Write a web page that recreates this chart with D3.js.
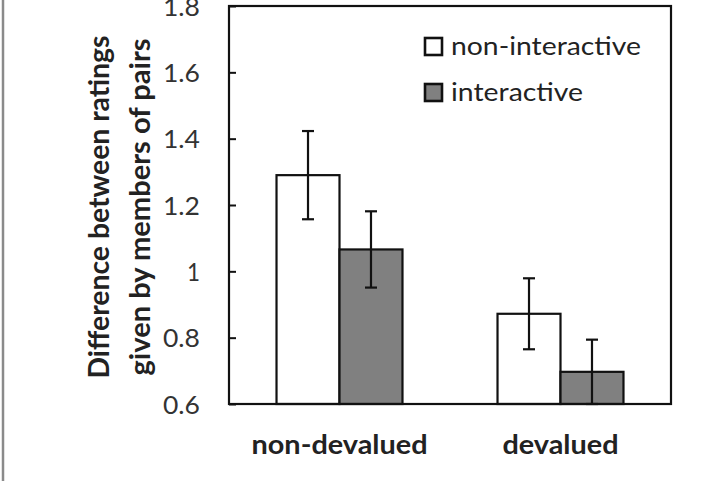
<!DOCTYPE html>
<html><head><meta charset="utf-8">
<script src="https://cdn.jsdelivr.net/npm/d3@7"></script>
<style>body{margin:0;background:#fff}svg{display:block}</style>
</head><body>
<script>
const categories = ["non-devalued", "devalued"];
const seriesNames = ["non-interactive", "interactive"];
const seriesColors = ["#ffffff", "#808080"];
const nonInteractive = [1.29, 0.872];
const interactive = [1.066, 0.697];
const nonInteractiveErr = [0.133, 0.107];
const interactiveErr = [0.115, 0.097];
const yTicks = [0.6, 0.8, 1, 1.2, 1.4, 1.6, 1.8];

const W = 726, H = 481;
const m = {left: 229, right: 671, top: 6, bottom: 404};
const font = "Lato, 'Open Sans', sans-serif";

const svg = d3.select("body").append("svg").attr("width", W).attr("height", H);
svg.append("rect").attr("width", W).attr("height", H).attr("fill", "#fff");
svg.append("line").attr("x1", 3).attr("x2", 3).attr("y1", 0).attr("y2", H)
  .attr("stroke", "#8a8a8a").attr("stroke-width", 2.5);

const x0 = d3.scaleBand().domain(categories).range([m.left, m.right]).paddingInner(0.43).paddingOuter(0.215);
const x1 = d3.scaleBand().domain(seriesNames).range([0, x0.bandwidth()]);
const y = d3.scaleLinear().domain([0.6, 1.8]).range([m.bottom, m.top]);

const data = categories.map((c, i) => ({
  cat: c,
  vals: [
    {s: seriesNames[0], v: nonInteractive[i], e: nonInteractiveErr[i], col: seriesColors[0]},
    {s: seriesNames[1], v: interactive[i], e: interactiveErr[i], col: seriesColors[1]}
  ]
}));

const g = svg.append("g");
const groups = g.selectAll("g.grp").data(data).join("g")
  .attr("transform", d => `translate(${x0(d.cat)},0)`);
groups.selectAll("rect").data(d => d.vals).join("rect")
  .attr("x", d => x1(d.s)).attr("width", x1.bandwidth())
  .attr("y", d => y(d.v)).attr("height", d => y(0.6) - y(d.v))
  .attr("fill", d => d.col).attr("stroke", "#111").attr("stroke-width", 2.2);

const eb = groups.selectAll("g.eb").data(d => d.vals).join("g")
  .attr("transform", d => `translate(${x1(d.s) + x1.bandwidth() / 2},0)`)
  .attr("stroke", "#111").attr("stroke-width", 2.2);
eb.append("line").attr("y1", d => y(d.v + d.e)).attr("y2", d => y(Math.max(0.6, d.v - d.e)));
eb.append("line").attr("x1", -6).attr("x2", 6).attr("y1", d => y(d.v + d.e)).attr("y2", d => y(d.v + d.e));
eb.append("line").attr("x1", -6).attr("x2", 6).attr("y1", d => y(Math.max(0.6, d.v - d.e))).attr("y2", d => y(Math.max(0.6, d.v - d.e)));

// frame
svg.append("rect").attr("x", m.left).attr("y", m.top).attr("width", m.right - m.left).attr("height", m.bottom - m.top)
  .attr("fill", "none").attr("stroke", "#111").attr("stroke-width", 2.2);

// y axis
const yAxis = d3.axisLeft(y).tickValues(yTicks).tickSize(-7).tickPadding(29)
  .tickFormat(d => d3.format("")(+d.toFixed(1)));
const ya = svg.append("g").attr("transform", `translate(${m.left},0)`).call(yAxis);
ya.select(".domain").remove();
ya.selectAll(".tick line").attr("stroke", "#111").attr("stroke-width", 2);
ya.selectAll(".tick text").attr("font-family", font).attr("font-size", 25).attr("fill", "#333")
  .attr("dy", "0.36em").attr("textLength", d => (String(+d.toFixed(1)).length === 1 ? 13 : 37))
  .attr("lengthAdjust", "spacingAndGlyphs");

// x labels
const xa = svg.append("g").attr("transform", `translate(0,${m.bottom})`)
  .call(d3.axisBottom(x0).tickSize(0).tickPadding(0));
xa.select(".domain").remove();
xa.selectAll(".tick text").attr("y", 50).attr("dy", 0).attr("font-family", font).attr("font-size", 27)
  .attr("font-weight", "bold").attr("fill", "#222")
  .attr("textLength", d => d === "devalued" ? 116 : 176).attr("lengthAdjust", "spacingAndGlyphs");

// y title
const t = svg.append("text").attr("transform", "translate(0,207) rotate(-90)")
  .attr("text-anchor", "middle").attr("font-family", font).attr("font-size", 28)
  .attr("font-weight", "bold").attr("fill", "#222");
t.append("tspan").attr("x", 0).attr("y", 109).attr("textLength", 343).attr("lengthAdjust", "spacingAndGlyphs")
  .text("Difference between ratings");
t.append("tspan").attr("x", 0).attr("y", 150).attr("textLength", 337).attr("lengthAdjust", "spacingAndGlyphs")
  .text("given by members of pairs");

// legend
const lg = svg.append("g").attr("transform", "translate(425,38)");
const legLens = [190, 132];
seriesNames.forEach((s, i) => {
  lg.append("rect").attr("x", 0).attr("y", i * 46).attr("width", 17).attr("height", 17)
    .attr("fill", seriesColors[i]).attr("stroke", "#111").attr("stroke-width", 2.6);
  lg.append("text").attr("x", 26).attr("y", i * 46 + 17).attr("font-family", font)
    .attr("font-size", 25).attr("fill", "#222").attr("textLength", legLens[i])
    .attr("lengthAdjust", "spacingAndGlyphs").text(s);
});
</script>
</body></html>
